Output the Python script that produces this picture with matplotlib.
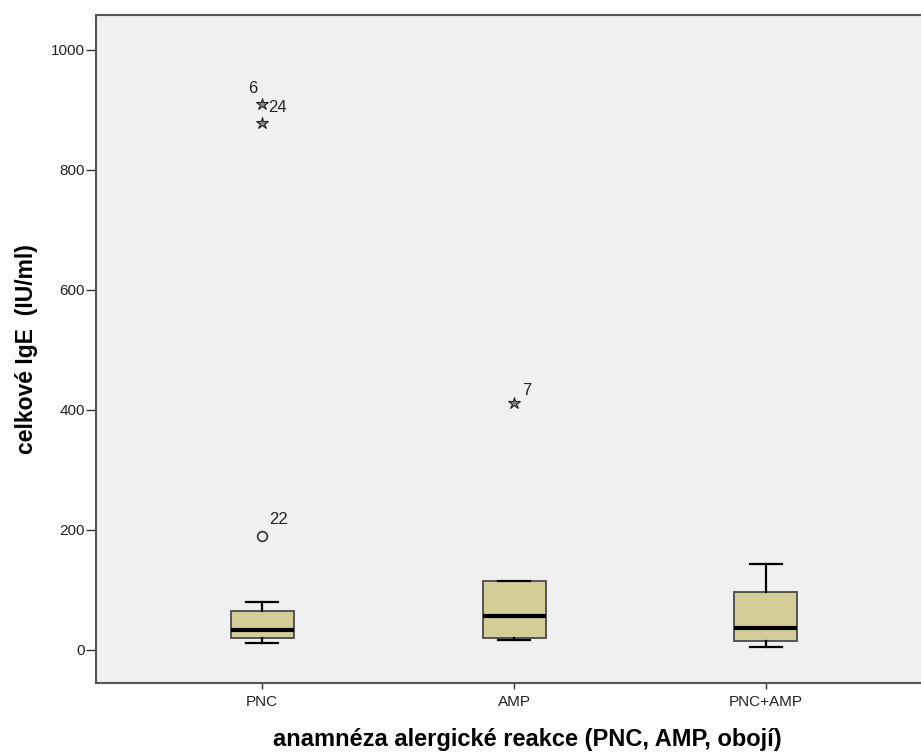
import matplotlib
matplotlib.use("Agg")
import matplotlib.pyplot as plt

plt.rcParams['font.family'] = ['Liberation Sans', 'DejaVu Sans']

# groups and box statistics (IU/ml)
groups = ["PNC", "AMP", "PNC+AMP"]
whisker_low = [12, 17, 5]
q1 = [20, 20, 15]
median = [33, 57, 37]
q3 = [65, 115, 97]
whisker_high = [80, 115, 143]

# outliers: circles (mild) and stars (extreme)
mild_group = [1]
mild_value = [190]
mild_label = ["22"]
extreme_group = [1, 1, 2]
extreme_value = [910, 878, 411]
extreme_label = ["6", "24", "7"]

box_face = "#d3ce97"
bg = "#f0f0f0"

fig = plt.figure(figsize=(9.21, 7.53), dpi=100)
ax = fig.add_axes([96 / 921, 1 - 683 / 753, 862 / 921, 668 / 753])
ax.set_facecolor(bg)

stats = []
for i, g in enumerate(groups):
    stats.append(dict(label=g, whislo=whisker_low[i], q1=q1[i], med=median[i],
                      q3=q3[i], whishi=whisker_high[i], fliers=[]))

ax.bxp(stats, positions=[1, 2, 3], widths=0.25, patch_artist=True,
       showfliers=False,
       boxprops=dict(facecolor=box_face, edgecolor="#4a4a4a", linewidth=1.3),
       medianprops=dict(color="black", linewidth=3),
       whiskerprops=dict(color="black", linewidth=1.6),
       capprops=dict(color="black", linewidth=1.6))

ax.plot(mild_group, mild_value, linestyle="none", marker="o", markersize=7,
        mfc="none", mec="#333333", mew=1.2)
ax.plot(extreme_group, extreme_value, linestyle="none", marker="*", markersize=9,
        mfc="#888888", mec="#222222", mew=0.8)

# case number offsets (points) next to each outlier
label_offsets = {"22": (5, 11.5), "6": (-10, 11), "24": (4.5, 11), "7": (6, 9)}
for g, v, t in zip(mild_group + extreme_group, mild_value + extreme_value,
                   mild_label + extreme_label):
    ax.annotate(t, (g, v), xytext=label_offsets[t], textcoords="offset points",
                ha="left", va="center", fontsize=12, color="#222222")

ax.set_xlim(0.341, 3.762)
ax.set_ylim(-55, 1058)
ax.set_yticks([0, 200, 400, 600, 800, 1000])
ax.set_xticks([1, 2, 3])
ax.set_xticklabels(groups)
ax.tick_params(axis="both", direction="out", width=1, color="#333333",
               labelsize=11, labelcolor="#222222")
ax.tick_params(axis="y", length=7, pad=1)
ax.tick_params(axis="x", length=4, pad=5)

for s in ax.spines.values():
    s.set_color("#555555")
    s.set_linewidth(1.5)

ax.set_xlabel("anamnéza alergické reakce (PNC, AMP, obojí)", fontsize=17,
              fontweight="bold", labelpad=13)
ax.set_ylabel("celkové IgE  (IU/ml)", fontsize=16.5, fontweight="bold",
              labelpad=9)

fig.savefig("out.png", dpi=100, facecolor="white")
